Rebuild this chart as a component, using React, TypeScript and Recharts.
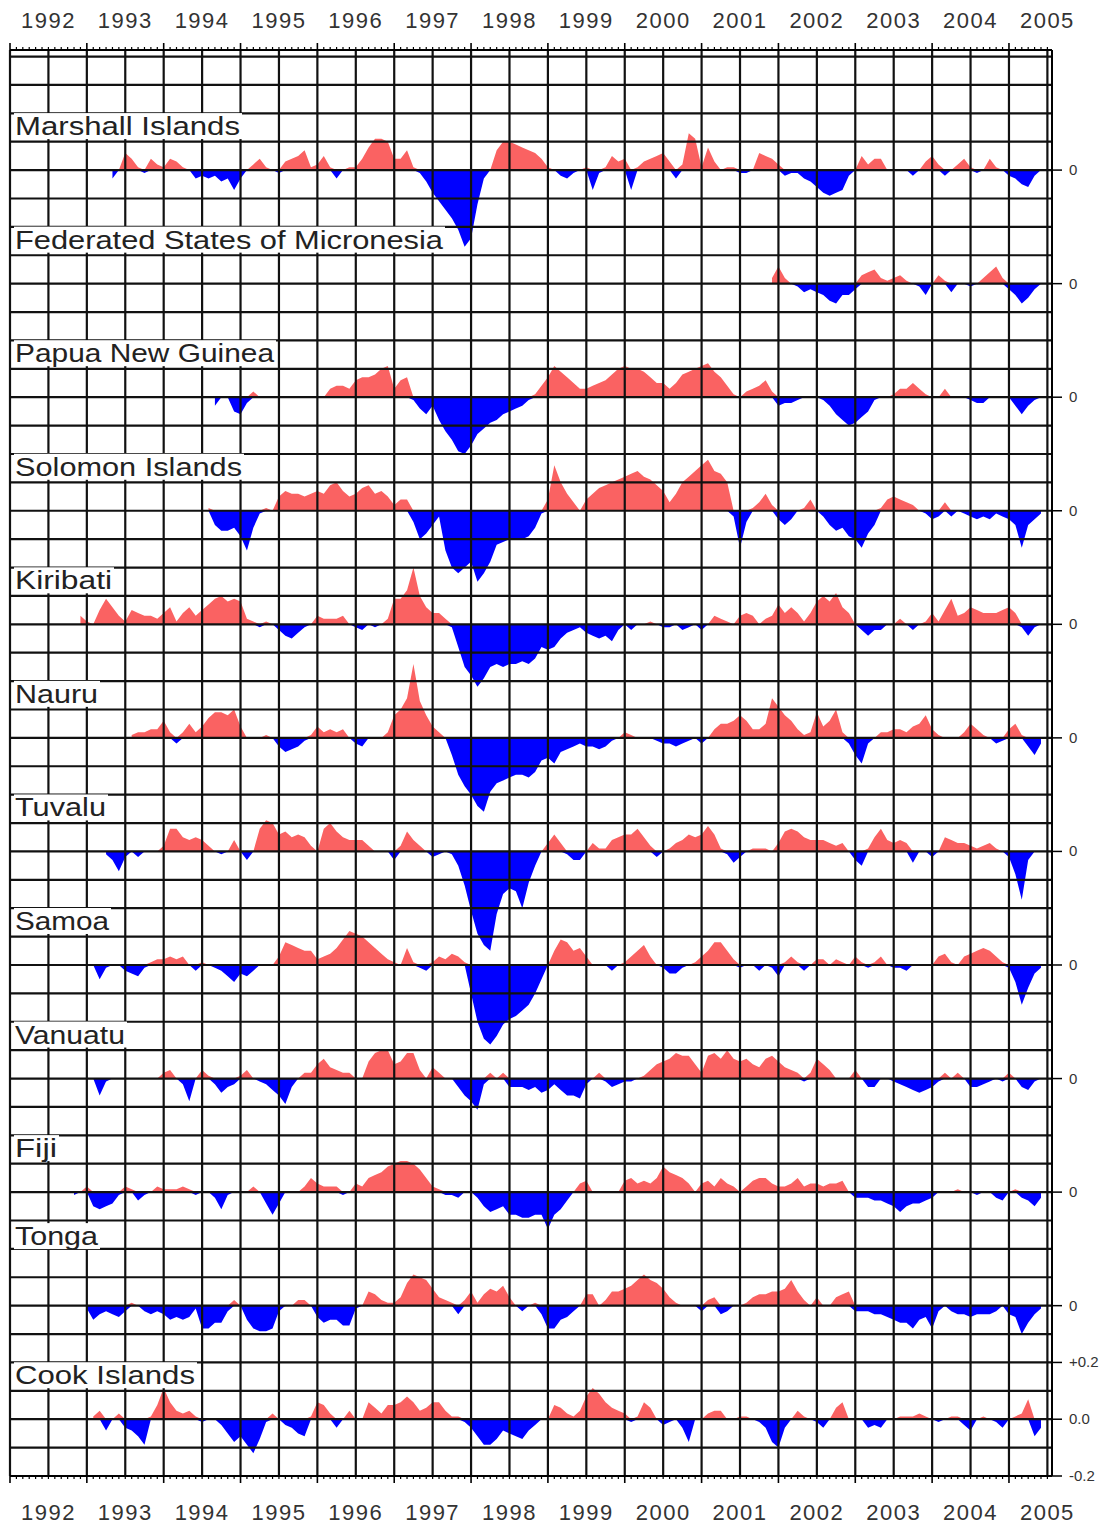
import React from "react";
import { AreaChart, Area, XAxis, YAxis, ReferenceLine, ReferenceDot } from "recharts";

// monthly anomalies in cm, each list starts at the month given in stationStart (0 = Jan 1992)
const START_YEAR = 1992;
const MONTHS = 162;

const stations = [
  "Marshall Islands",
  "Federated States of Micronesia",
  "Papua New Guinea",
  "Solomon Islands",
  "Kiribati",
  "Nauru",
  "Tuvalu",
  "Samoa",
  "Vanuatu",
  "Fiji",
  "Tonga",
  "Cook Islands",
];
const stationStart = [16, 119, 32, 31, 11, 19, 15, 13, 13, 10, 12, 13];

const marshallIslands = [
  -3, 0, 6, 4, 1, -1, 4, 2,
  1, 4, 3, 1, 0, -3, -2, -3, -2, -4, -3, -7,
  -3, 0, 2, 4, 1, 0, -1, 3, 4, 5, 7, 1,
  2, 5, 1, -3, 0, 1, 1, 4, 8, 11, 11, 10,
  4, 4, 7, 1, -1, -4, -8, -11, -14, -17, -21, -27,
  -24, -12, -3, 0, 7, 10, 10, 9, 8, 7, 6, 4,
  1, 0, -2, -3, -1, 0, 1, -7, -1, 1, 5, 3,
  4, -7, 1, 3, 4, 5, 6, 3, -3, 2, 13, 11,
  1, 8, 3, 0, 1, 1, -1, -1, 0, 6, 5, 4,
  2, -2, -1, -1, -3, -4, -6, -8, -9, -8, -7, -2,
  0, 5, 2, 4, 4, 0, 0, 0, 0, -2, 0, 3,
  5, 2, -2, 0, 2, 4, 1, -1, 0, 4, 1, 0,
  -2, -3, -5, -6, -2, 0,
];
const micronesia = [
  2, 6, 2, 0, -1, -3, -2, -3, -4, -6, -7, -4, -4, -2, 3, 4, 5, 2, 1, 2, 3, 1,
  0, -1, -4, 0, 3, 1, -3, 0, 0, -1, 0, 2, 4, 6, 2, -2, -4, -7, -5, -2, 0,
];
const papuaNewGuinea = [
  -3, 0, 0, -5, -6, -2, 2, 0,
  0, 0, 0, 0, 0, 0, 0, 0, 0, 0,
  3, 4, 4, 3, 6, 7, 7, 8, 10, 11,
  3, 6, 7, -1, -4, -6, -3, -8, -12, -15,
  -19, -20, -17, -13, -11, -9, -8, -6, -5, -4,
  -3, -1, 1, 4, 7, 11, 9, 7, 5, 3,
  3, 4, 5, 6, 8, 10, 11, 10, 10, 9,
  7, 5, 5, 3, 5, 8, 9, 10, 11, 12,
  9, 7, 4, 1, 0, 2, 3, 4, 6, 2,
  -3, -2, -2, -1, 0, 0, 0, -1, -3, -6,
  -8, -10, -9, -7, -5, -1, 0, 0, 1, 3,
  3, 5, 3, 1, 0, 0, 3, 0, 0, 0,
  -1, -2, -2, 0, 0, 0, 0, -3, -6, -3,
  -1, 0,
];
const solomonIslands = [
  1,
  -5, -7, -7, -6, -9, -14, -6, -1,
  1, 0, 5, 7, 6, 6, 5, 6, 7, 6,
  9, 10, 7, 5, 6, 8, 9, 6, 7, 5,
  2, 4, 4, -4, -10, -8, -5, -2, -14, -20,
  -22, -20, -18, -25, -22, -18, -12, -11, -10, -10,
  -10, -9, -6, -1, 4, 16, 10, 6, 3, 0,
  4, 6, 8, 9, 10, 11, 12, 13, 14, 12,
  11, 9, 7, 3, 6, 10, 12, 14, 16, 18,
  14, 13, 10, -2, -13, -4, 1, 3, 6, 2,
  -3, -5, -3, 0, 1, 4, 0, -2, -5, -7,
  -6, -9, -10, -13, -8, -5, 1, 4, 5, 4,
  3, 2, 0, -1, -3, -2, 3, -2, 0, -1,
  -2, -3, -2, -3, -1, -2, -3, -5, -13, -5,
  -3, -1,
];
const kiribati = [
  3,
  1, 0, 5, 9, 6, 3, 1, 5,
  4, 3, 3, 2, 4, 6, 1, 4, 6, 3,
  5, 7, 9, 10, 8, 9, 8, 2, 1, -1,
  1, 0, -2, -4, -5, -3, -1, 0, 3, 2,
  2, 2, 3, 0, -1, -2, 0, -1, 0, 2,
  9, 9, 12, 20, 10, 6, 4, 4, 2, -1,
  -8, -15, -18, -22, -19, -15, -14, -15, -14, -14,
  -13, -14, -12, -8, -9, -8, -5, -3, -2, -1,
  -3, -4, -5, -4, -6, -2, 0, -2, 0, 0,
  1, 0, -1, -1, 0, -2, -1, 0, -2, 0,
  3, 2, 1, 0, 3, 4, 3, 0, 2, 3,
  7, 4, 6, 4, 1, 4, 8, 10, 8, 11,
  6, 4, 0, -2, -4, -2, -2, 0, 0, 2,
  0, -2, 0, 1, 4, 1, 5, 9, 3, 4,
  6, 5, 4, 4, 4, 5, 6, 4, -1, -4,
  -1, 0,
];
const nauru = [
  1,
  2, 2, 3, 3, 6, 2, -2, 2, 5, 2,
  4, 7, 9, 9, 8, 10, 4, 0, 0, 0,
  1, 0, -3, -5, -4, -3, -1, 1, 4, 2,
  3, 2, 3, 0, -2, -3, 0, 0, 0, 2,
  8, 10, 14, 26, 13, 8, 4, 2, 0, -6,
  -13, -17, -20, -24, -26, -19, -16, -15, -14, -13,
  -13, -14, -12, -8, -7, -9, -5, -4, -3, -2,
  -3, -3, -4, -3, -1, 0, 2, 1, 0, 0,
  0, -1, -2, -2, -3, -2, -1, 0, -2, 0,
  3, 5, 5, 6, 8, 6, 3, 3, 5, 14,
  11, 8, 6, 3, 1, 2, 9, 4, 6, 10,
  2, -2, -6, -9, -2, 0, 2, 2, 3, 3,
  2, 4, 5, 8, 3, 1, 0, 0, 0, 2,
  5, 3, 1, 0, -2, -1, 3, 5, 1, -3,
  -6, -2,
];
const tuvalu = [
  -1, -3, -7, -2, 0,
  -2, 0, 0, 0, 2, 8, 8, 5, 4, 5,
  4, 2, 0, -1, 0, 4, 0, -3, 0, 8,
  11, 10, 6, 7, 5, 6, 5, 2, 0, 8,
  10, 7, 5, 4, 4, 4, 2, 0, 0, 0,
  -3, 2, 7, 4, 2, 0, -2, -1, 0, -1,
  -5, -12, -21, -29, -33, -35, -22, -15, -13, -14,
  -20, -11, -5, 0, 3, 6, 3, -1, -3, -3,
  0, 3, 1, 1, 4, 5, 6, 6, 8, 5,
  2, -2, 0, 1, 3, 4, 6, 5, 6, 9,
  6, 1, -1, -4, -2, 0, 1, 1, 1, 0,
  3, 7, 8, 7, 5, 4, 4, 4, 3, 2,
  3, 0, -3, -5, 1, 5, 8, 4, 3, 4,
  3, -4, 0, 0, -2, 0, 5, 4, 3, 3,
  2, 1, 2, 3, 1, 0, -2, -8, -17, -3,
  0, 0,
];
const samoa = [
  0, -5, -1, 0, 0, -2, -3,
  -4, -1, 1, 2, 2, 3, 2, 3, 0, -2,
  1, 0, -1, -2, -4, -6, -3, -4, -2, 0,
  0, 0, 3, 8, 7, 6, 5, 5, 2, 3,
  4, 6, 9, 12, 11, 10, 8, 6, 4, 2,
  1, 0, 6, 1, -1, -2, 1, 3, 2, 4,
  3, 1, -10, -20, -26, -28, -25, -21, -19, -18,
  -16, -14, -10, -5, 0, 5, 9, 8, 5, 6,
  3, 0, 0, 0, -2, 0, 1, 3, 5, 7,
  3, 0, -1, -3, -3, -1, 0, 1, 3, 5,
  8, 8, 5, 2, -1, 0, 0, -2, 0, -1,
  -4, 1, 3, 1, -2, 0, 2, 2, 0, 2,
  1, 0, 3, 1, -1, 1, 3, 0, -1, -1,
  -2, 0, 0, 0, 0, 3, 4, 1, 0, 3,
  4, 5, 6, 5, 3, 1, -1, -6, -14, -8,
  -3, -1,
];
const vanuatu = [
  0, -6, -1, 0, 0, 0, 0,
  0, 0, 0, 0, 2, 3, 0, -2, -8, 0,
  3, 1, -2, -5, -3, -2, 1, 3, 0, -1,
  -2, -4, -6, -9, -3, 0, 2, 2, 5, 7,
  4, 3, 2, 2, 0, 0, 6, 9, 10, 10,
  5, 6, 9, 9, 3, 0, 4, 2, 0, 0,
  -3, -6, -8, -11, -2, 2, 0, 2, -3, -3,
  -3, -4, -3, -5, -4, -2, -4, -6, -6, -7,
  -2, 0, 2, -1, -3, -2, -1, -1, 0, 1,
  3, 5, 6, 7, 9, 8, 8, 5, 2, 8,
  9, 7, 10, 7, 6, 7, 5, 4, 7, 8,
  6, 4, 3, 2, -1, 2, 7, 5, 3, 0,
  0, 0, 3, 0, -3, -3, 0, 0, -1, -2,
  -3, -4, -5, -4, -3, -1, 2, 0, 2, 0,
  -3, -3, -2, -1, 0, -1, 2, 0, -3, -4,
  -1, 0,
];
const fiji = [
  -1, 0, 2, -5, -6, -5, -4, -1, 2, 1,
  -3, -1, 0, 2, 1, 1, 1, 2, 1, -1,
  0, 0, -2, -6, -1, 0, 0, 0, 2, 0,
  -4, -8, -4, 0, 0, 0, 2, 5, 3, 2,
  2, 2, -1, 0, 3, 2, 5, 6, 7, 9,
  10, 11, 11, 10, 8, 5, 2, 1, -1, -1,
  -2, 0, 0, -2, -5, -7, -6, -5, -8, -8,
  -9, -9, -8, -8, -13, -8, -6, -3, 0, 3,
  4, 0, 0, 0, 0, 0, 4, 5, 3, 4,
  3, 5, 9, 7, 6, 5, 3, 0, 3, 4,
  2, 5, 3, 2, 0, 2, 4, 5, 5, 3,
  2, 2, 3, 5, 2, 3, 3, 2, 3, 3,
  4, 0, -2, -2, -2, -3, -3, -4, -5, -7,
  -5, -4, -4, -3, -2, 0, 0, 0, 1, 0,
  0, -1, 0, 0, -2, -3, 0, 1, -2, -3,
  -5, -2,
];
const tonga = [
  -1, -5, -3, -2, -3, -4, -2, 1,
  0, -2, -3, -2, -3, -5, -4, -5, -4, -1,
  -8, -8, -6, -6, -2, 2, 0, -5, -8, -9,
  -9, -8, -2, 0, 0, 2, 2, 0, -4, -6,
  -5, -5, -7, -7, -1, 0, 5, 4, 2, 1,
  1, 3, 8, 11, 10, 9, 6, 3, 2, 1,
  -3, 2, 5, 1, 4, 6, 5, 7, 3, 0,
  -2, 0, 1, -3, -8, -8, -5, -4, -2, 0,
  4, 4, 0, 2, 5, 5, 6, 7, 9, 11,
  9, 8, 6, 3, 1, 0, 0, 0, -2, 2,
  3, -3, -2, 0, 0, 1, 3, 4, 4, 5,
  5, 6, 9, 5, 2, 0, 3, 0, 0, 3,
  4, 5, -2, -2, -2, -3, -3, -4, -5, -6,
  -6, -8, -5, -4, -8, -2, 0, -2, -3, -3,
  -4, -3, -3, -3, -2, 0, -3, -4, -10, -6,
  -3, -1,
];
const cookIslands = [
  1, 3, -4, 0, 2, -3, -4,
  -6, -9, 1, 5, 11, 6, 3, 2, 3, 1,
  -1, 0, 0, -2, -5, -8, -6, -9, -12, -7,
  -1, 2, 0, -2, -3, -5, -6, 1, 6, 5,
  2, -3, 0, 3, 0, 0, 6, 4, 2, 5,
  5, 6, 8, 6, 3, 4, 6, 6, 3, 1,
  1, -1, -3, -6, -9, -9, -7, -4, -5, -6,
  -7, -4, -2, 0, 0, 5, 4, 2, 1, 3,
  8, 11, 9, 6, 4, 3, 2, -1, 1, 6,
  4, 0, -2, -1, 0, -3, -8, 0, 0, 2,
  3, 3, 0, 0, 1, 1, 0, -1, -3, -8,
  -10, -3, 0, 3, 1, 0, -1, -3, 0, 4,
  6, 0, 0, 0, -3, -2, -3, 0, 0, 1,
  1, 1, 2, 1, 0, -1, 0, 1, 1, -2,
  -4, 0, 1, 0, -1, -3, 0, 1, 2, 7,
  -6, -3,
];

const stationValues = [
  marshallIslands, micronesia, papuaNewGuinea, solomonIslands, kiribati, nauru,
  tuvalu, samoa, vanuatu, fiji, tonga, cookIslands,
];

const yearLabels = [1992, 1993, 1994, 1995, 1996, 1997, 1998, 1999, 2000, 2001, 2002, 2003, 2004, 2005];
const cookScaleValues = [0.2, 0, -0.2];
const cookScaleLabels = ["+0.2", "0.0", "-0.2"];

// layout (panel spacing in axis units, label placement)
const PANEL_STEP = 0.4;
const X_DOMAIN = [1992, 2005.56];
const Y_DOMAIN = [-4.6, 0.423];
const NAME_LIFT = [0.155, 0.155, 0.155, 0.155, 0.155, 0.155, 0.155, 0.155, 0.155, 0.155, 0.245, 0.155];
const NAME_WIDTH = [225, 428, 259, 227, 97, 83, 91, 94, 110, 42, 83, 180];
const RED = "#fa6262";
const BLUE = "#0000ff";
const GRID = "#111";
const FONT = "'Liberation Sans', Arial, sans-serif";

const rows = Array.from({ length: MONTHS }, (_, i) => {
  const row: Record<string, any> = { t: START_YEAR + i / 12 };
  stationValues.forEach((vals, p) => {
    const j = i - stationStart[p];
    const off = -PANEL_STEP * p;
    if (j < 0 || j >= vals.length) {
      row[`p${p}`] = null;
      row[`n${p}`] = null;
      return;
    }
    const v = vals[j] / 100;
    row[`p${p}`] = [off, off + Math.max(v, 0)];
    row[`n${p}`] = [off + Math.min(v, 0), off];
  });
  return row;
});

const monthTicks = Array.from({ length: MONTHS + 1 }, (_, i) => START_YEAR + i / 12);
const hLines = Array.from({ length: 51 }, (_, k) => Math.round((-4.6 + k * 0.1) * 100) / 100);
const vLines = Array.from({ length: 28 }, (_, k) => START_YEAR + k / 2);

const levelTicks = [
  ...stations.slice(0, -1).map((_, p) => ({ v: -PANEL_STEP * p, label: "0" })),
  ...cookScaleValues.map((c, k) => ({
    v: Math.round((-PANEL_STEP * (stations.length - 1) + c) * 100) / 100,
    label: cookScaleLabels[k],
  })),
];

function MonthTick(props: any) {
  const { x, y, payload, side } = props;
  const m = Math.round((payload.value - START_YEAR) * 12);
  const dir = side === "top" ? -1 : 1;
  const major = m % 12 === 0;
  return (
    <g>
      <line x1={x} y1={y} x2={x} y2={y + dir * (major ? 7 : 3)} stroke="#000" strokeWidth={major ? 1.6 : 1.2} />
      {m % 12 === 6 && (
        <text
          x={x}
          y={side === "top" ? y - 22 : y + 44}
          textAnchor="middle"
          fontSize={22}
          letterSpacing={1.5}
          fill="#333"
          fontFamily={FONT}
        >
          {yearLabels[Math.floor(m / 12)]}
        </text>
      )}
    </g>
  );
}

function LevelTick(props: any) {
  const { x, y, payload } = props;
  const hit = levelTicks.find((t) => Math.abs(t.v - payload.value) < 1e-6);
  return (
    <text x={x} y={y} dy={5} fontSize={15} fill="#333" fontFamily={FONT} textAnchor="start">
      {hit ? hit.label : ""}
    </text>
  );
}

function PanelName(props: any) {
  const { viewBox, name, w } = props;
  const x = viewBox.x + 5;
  const y = viewBox.y;
  return (
    <g>
      <rect x={x - 1} y={y - 13} width={w + 3} height={26} fill="#fff" />
      <text
        x={x}
        y={y}
        dy={9}
        fontSize={25}
        textLength={w}
        lengthAdjust="spacingAndGlyphs"
        fill="#222"
        fontFamily={FONT}
      >
        {name}
      </text>
    </g>
  );
}

export default function App() {
  return (
    <div style={{ width: 1110, height: 1526, background: "#fff", overflow: "hidden" }}>
      <style>{"body{margin:0}"}</style>
      <AreaChart width={1110} height={1526} data={rows} margin={{ top: 20, right: 0, bottom: 20, left: 10 }}>
        <XAxis
          xAxisId="top"
          orientation="top"
          type="number"
          dataKey="t"
          domain={X_DOMAIN}
          allowDataOverflow
          ticks={monthTicks}
          interval={0}
          height={30}
          tickSize={0}
          tickMargin={0}
          tickLine={false}
          axisLine={{ stroke: "#000", strokeWidth: 2 }}
          tick={<MonthTick side="top" />}
        />
        <XAxis
          xAxisId="bottom"
          orientation="bottom"
          type="number"
          dataKey="t"
          domain={X_DOMAIN}
          allowDataOverflow
          ticks={monthTicks}
          interval={0}
          height={30}
          tickSize={0}
          tickMargin={0}
          tickLine={false}
          axisLine={{ stroke: "#000", strokeWidth: 2 }}
          tick={<MonthTick side="bottom" />}
        />
        <YAxis
          orientation="right"
          type="number"
          domain={Y_DOMAIN}
          allowDataOverflow
          ticks={levelTicks.map((t) => t.v)}
          interval={0}
          width={58}
          tickSize={10}
          tickMargin={7}
          tickLine={{ stroke: "#000", strokeWidth: 1.5 }}
          axisLine={{ stroke: "#000", strokeWidth: 2 }}
          tick={<LevelTick />}
        />
        {stations.map((name, p) => (
          <Area
            key={`p${p}`}
            xAxisId="bottom"
            dataKey={`p${p}`}
            type="linear"
            stroke="none"
            fill={RED}
            fillOpacity={1}
            isAnimationActive={false}
            dot={false}
            activeDot={false}
          />
        ))}
        {stations.map((name, p) => (
          <Area
            key={`n${p}`}
            xAxisId="bottom"
            dataKey={`n${p}`}
            type="linear"
            stroke="none"
            fill={BLUE}
            fillOpacity={1}
            isAnimationActive={false}
            dot={false}
            activeDot={false}
          />
        ))}
        {hLines.map((v) => (
          <ReferenceLine key={`h${v}`} xAxisId="bottom" y={v} stroke={GRID} strokeWidth={2.2} />
        ))}
        {vLines.map((v) => (
          <ReferenceLine key={`v${v}`} xAxisId="bottom" x={v} stroke={GRID} strokeWidth={2.2} />
        ))}
        {stations.map((name, p) => (
          <ReferenceDot
            key={`name${p}`}
            xAxisId="bottom"
            x={START_YEAR}
            y={-PANEL_STEP * p + NAME_LIFT[p]}
            r={0}
            fill="none"
            stroke="none"
            ifOverflow="visible"
            label={{ content: (lp: any) => <PanelName {...lp} name={name} w={NAME_WIDTH[p]} /> }}
          />
        ))}
      </AreaChart>
    </div>
  );
}
